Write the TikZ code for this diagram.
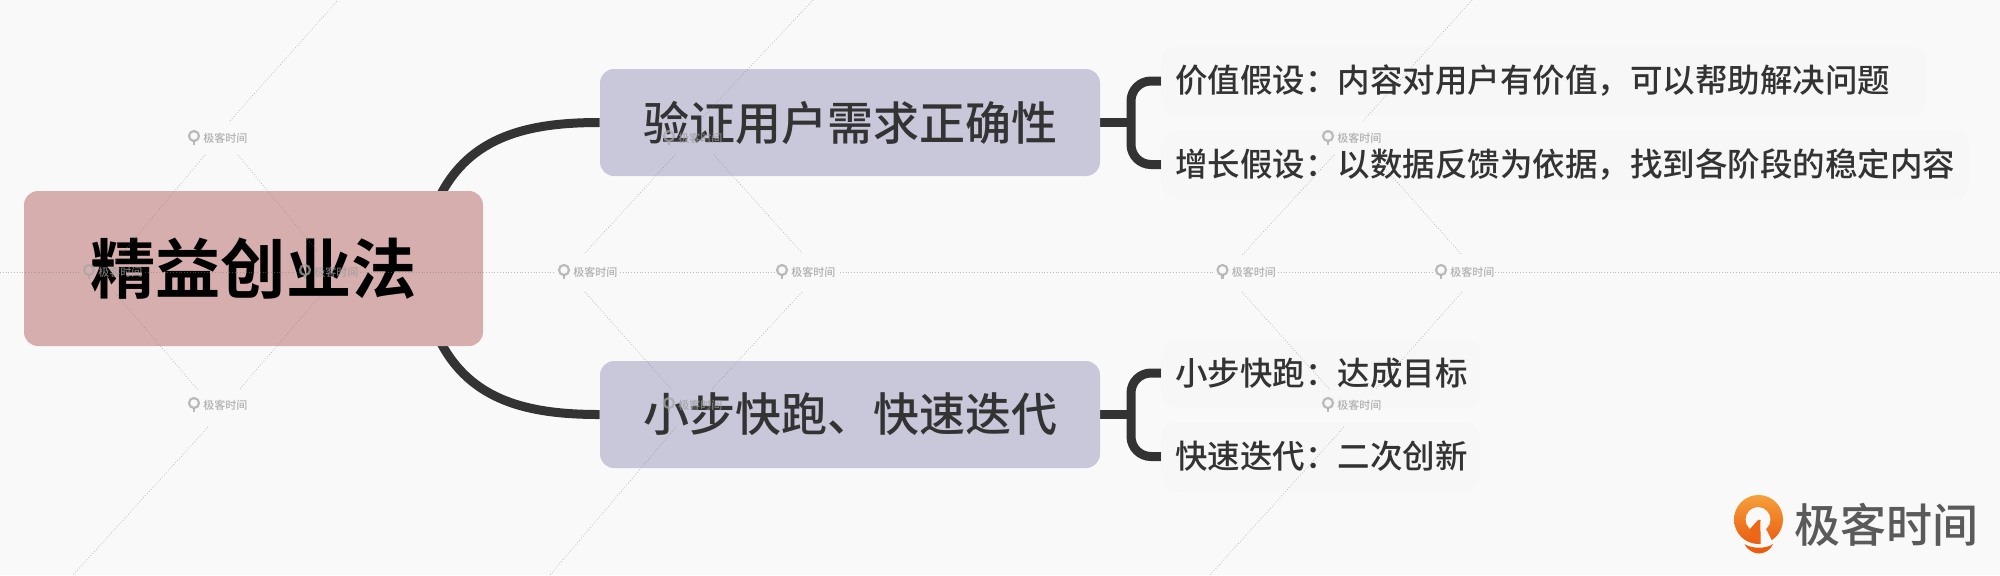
\documentclass[tikz,border=0pt]{standalone}
\usepackage{fontspec}
\setmainfont{Noto Sans CJK SC}
\newfontfamily\cjkbold{Noto Sans CJK SC Bold}
\newfontfamily\cjkmed{Noto Sans CJK SC Medium}
\usetikzlibrary{calc}
\newcommand{\leaftext}[1]{\raisebox{-0.6pt}{#1}}
\definecolor{pagebg}{HTML}{FAF9FA}
\definecolor{rootfill}{HTML}{D6AEAD}
\definecolor{branchfill}{HTML}{C8C8DA}
\definecolor{leaffill}{HTML}{F8F7F8}
\definecolor{inkdark}{HTML}{333333}
\definecolor{logoink}{HTML}{5A5A5A}
\definecolor{logotop}{HTML}{F5A03C}
\definecolor{logobot}{HTML}{EA5D10}
\pgfdeclarelayer{bglayer}
\pgfdeclarelayer{connlayer}
\pgfsetlayers{bglayer,connlayer,main}
\tikzset{
  rootbox/.style={fill=rootfill,rounded corners=7pt,inner sep=0pt,minimum width=229.5pt,minimum height=77.5pt,text=black,font=\cjkbold\fontsize{32.6}{36}\selectfont},
  branchbox/.style={fill=branchfill,rounded corners=7pt,inner sep=0pt,minimum width=250pt,minimum height=53.5pt,text=inkdark,font=\cjkmed\fontsize{23}{28}\selectfont},
  leafbox/.style={fill=leaffill,rounded corners=8pt,inner xsep=7pt,inner ysep=0pt,minimum height=34.5pt,text=inkdark,anchor=west,align=left,text width=#1,font=\cjkmed\fontsize{16.25}{20}\selectfont},
  thickconn/.style={draw=inkdark,line width=4.5pt},
  bracketconn/.style={draw=inkdark,line width=4.5pt,rounded corners=10pt},
  wmline/.style={draw=black!50,line width=0.4pt,densely dotted,opacity=0.5},
  wmtext/.style={text=black!40,font=\cjkmed\fontsize{5.5}{6}\selectfont,inner sep=0pt,anchor=west,opacity=0.75},
  wmicon/.style={draw=black!35,line width=1.1pt,opacity=0.75},
  logotext/.style={text=logoink,font=\cjkmed\fontsize{23}{26}\selectfont,inner sep=0pt,anchor=west}
}
\begin{document}
\begin{tikzpicture}[x=0.5pt,y=-0.5pt]
\useasboundingbox (0,0) rectangle (2000,575);
\begin{pgfonlayer}{bglayer}
\fill[pagebg] (0,0) rectangle (2000,575);
\end{pgfonlayer}

% main boxes
\node[rootbox] (root) at (253.5,268.5) {精益创业法};
\node[branchbox] (b1) at (850,122.5) {验证用户需求正确性};
\node[branchbox] (b2) at (850,414.5) {小步快跑、快速迭代};
\node[leafbox=368.5pt] (l1) at (1161,81) {\leaftext{价值假设：内容对用户有价值，可以帮助解决问题}};
\node[leafbox=390pt] (l2) at (1161,164.5) {\leaftext{增长假设：以数据反馈为依据，找到各阶段的稳定内容}};
\node[leafbox=145.5pt] (l3) at (1161,373) {\leaftext{小步快跑：达成目标}};
\node[leafbox=145.5pt] (l4) at (1161,456.5) {\leaftext{快速迭代：二次创新}};

% connectors
\coordinate (rt) at (439,198);
\coordinate (rb) at (439,339);
\coordinate (j1) at (1131,122.5);
\coordinate (j2) at (1131,414.5);
\begin{pgfonlayer}{connlayer}
\draw[thickconn] (rt) .. controls (470,135) and (530,122.5) .. (b1.west);
\draw[thickconn] (rb) .. controls (470,402) and (530,414.5) .. (b2.west);
\draw[thickconn] (b1.east) -- (j1);
\draw[thickconn] (b2.east) -- (j2);
\draw[bracketconn] (l1.west) -| (j1) |- (l2.west);
\draw[bracketconn] (l3.west) -| (j2) |- (l4.west);
\end{pgfonlayer}

% watermark lattice
\foreach \xa/\ya/\xb/\yb in {
  230/121/338/0, 205/155/115/262, 238/155/318/252, 115/293/198/390, 319/297/239/390, 208/427/73/575,
  813/0/700/120, 675/155/585/253, 714/155/802/253, 585/292/672/390, 802/292/711/390, 676/427/550/575,
  1472/0/1363/121, 1334/155/1242/255, 1373/155/1462/255, 1242/292/1330/390, 1462/292/1375/390, 1344/427/1210/575,
  0/272/80/272, 145/272/300/272, 360/272/555/272, 620/272/775/272, 840/272/1215/272, 1278/272/1433/272, 1495/272/2000/272}
  {\draw[wmline] (\xa,\ya) -- (\xb,\yb);}

\foreach \cx/\cy [count=\i] in {217/138,217/405,112/272,328/272,587/272,805/272,692/138,692/405,1351/138,1351/405,1245.5/272,1464/272}
{
  \draw[wmicon] (\cx-23,\cy-2) circle[radius=5];
  \draw[wmicon] (\cx-23,\cy+3) -- (\cx-23,\cy+7);
  \node[wmtext] (wm\i) at (\cx-14,\cy) {极客时间};
}

% logo
\shade[top color=logotop,bottom color=logobot,even odd rule]
  (1758.5,519.5) circle[radius=24.5] (1758,519.5) circle[radius=12.5];
\fill[pagebg] (1760.5,520) -- (1767,531) -- (1772,541) -- (1772,546) -- (1760.5,546) -- cycle;
\fill[logobot!85!logotop] (1758.3,519.7) -- (1749.3,529.7) -- (1753,535) -- (1760,544) -- (1760.5,520) -- cycle;
\fill[logobot] (1744.5,544) .. controls (1752,549) and (1766,549) .. (1773,544) .. controls (1771,550) and (1764,553.5) .. (1759,553.5) .. controls (1754,553.5) and (1747,550) .. (1744.5,544) -- cycle;
\node[logotext] (logo) at (1794,524.5) {极客时间};
\end{tikzpicture}
\end{document}
